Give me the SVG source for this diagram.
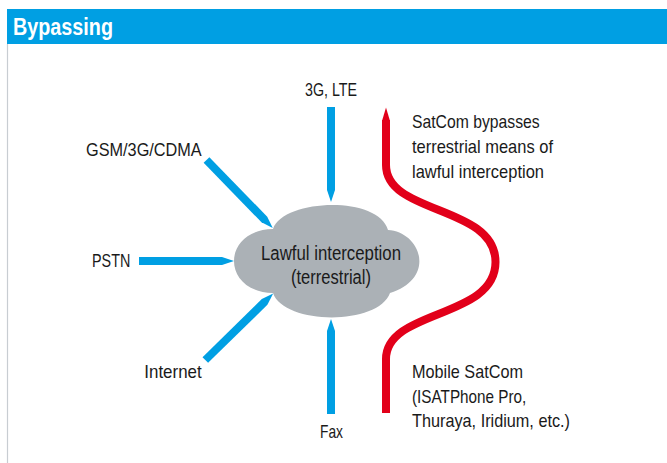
<svg xmlns="http://www.w3.org/2000/svg" width="667" height="463" viewBox="0 0 667 463">
<style>
text { font-family: "Liberation Sans", Arial, sans-serif; fill: #1a1a1a; }
.lbl { font-size: 19px; }
.cl { font-size: 20px; text-anchor: middle; }
.title { font-size: 24.5px; font-weight: bold; fill: #ffffff; }
.arr { fill: #009fe3; }
</style>
<defs>
<path id="arrow" d="M0,-4 H83 L95,0 L83,4 H0 Z"/>
</defs>
<rect x="0" y="0" width="667" height="463" fill="#ffffff"/>
<g id="header">
<rect x="7" y="9" width="660" height="35" fill="#009fe3"/>
<line x1="7.5" y1="44" x2="7.5" y2="463" stroke="#c8cdd2" stroke-width="1.2"/>
<text class="title" x="13" y="34.5" textLength="100" lengthAdjust="spacingAndGlyphs">Bypassing</text>
</g>
<g id="cloud">
<path d="M273,229 C283,199 378,195 388,230 C421,232 437,278 390,293 C378,326 284,325 273,293 C221,292 221,230 273,229 Z" fill="#abb1b6"/>
<text class="cl" x="331" y="260" textLength="140" lengthAdjust="spacingAndGlyphs">Lawful interception</text>
<text class="cl" x="331" y="284" textLength="80" lengthAdjust="spacingAndGlyphs">(terrestrial)</text>
</g>
<g id="connectors" class="arr">
<use href="#arrow" transform="translate(331,107) rotate(90)"/>
<use href="#arrow" transform="translate(206.5,160) rotate(45.8)"/>
<use href="#arrow" transform="translate(139,261)"/>
<use href="#arrow" transform="translate(205.3,360) rotate(-44.4)"/>
<use href="#arrow" transform="translate(331,414) rotate(-90)"/>
</g>
<g id="n-3g"><text class="lbl" x="331" y="96" text-anchor="middle" textLength="52" lengthAdjust="spacingAndGlyphs">3G, LTE</text></g>
<g id="n-gsm"><text class="lbl" x="86" y="156" textLength="115.7" lengthAdjust="spacingAndGlyphs">GSM/3G/CDMA</text></g>
<g id="n-pstn"><text class="lbl" x="92" y="267" textLength="38.3" lengthAdjust="spacingAndGlyphs">PSTN</text></g>
<g id="n-internet"><text class="lbl" x="144.3" y="378" textLength="57.4" lengthAdjust="spacingAndGlyphs">Internet</text></g>
<g id="n-fax"><text class="lbl" x="331.5" y="438" text-anchor="middle" textLength="23" lengthAdjust="spacingAndGlyphs">Fax</text></g>
<g id="satcom-bypass">
<path d="M386,120 V165 C386,215 495.5,205 495.5,262 C495.5,319 386,309 386,359 V413" fill="none" stroke="#e2001a" stroke-width="8"/>
<polygon points="382,121 390,121 386,107.5" fill="#e2001a"/>
</g>
<g id="n-satcom-note">
<text class="lbl" x="412" y="128" textLength="127.7" lengthAdjust="spacingAndGlyphs">SatCom bypasses</text>
<text class="lbl" x="412" y="153" textLength="141" lengthAdjust="spacingAndGlyphs">terrestrial means of</text>
<text class="lbl" x="412" y="178" textLength="132" lengthAdjust="spacingAndGlyphs">lawful interception</text>
</g>
<g id="n-mobile-satcom">
<text class="lbl" x="412" y="378" textLength="111" lengthAdjust="spacingAndGlyphs">Mobile SatCom</text>
<text class="lbl" x="412" y="403" textLength="114.3" lengthAdjust="spacingAndGlyphs">(ISATPhone Pro,</text>
<text class="lbl" x="412" y="427" textLength="158" lengthAdjust="spacingAndGlyphs">Thuraya, Iridium, etc.)</text>
</g>
</svg>
